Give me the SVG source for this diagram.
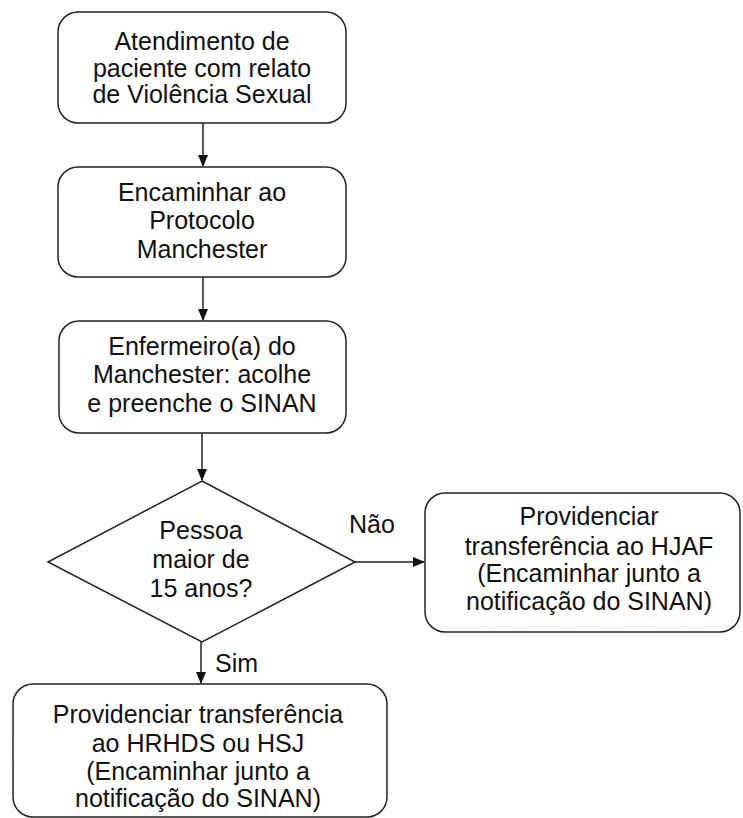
<svg xmlns="http://www.w3.org/2000/svg" width="743" height="818" viewBox="0 0 743 818">
<style>
.box{fill:#fff;stroke:#222;stroke-width:1.5}
.t{font-family:"Liberation Sans",Arial,sans-serif;font-size:25px;fill:#111;text-anchor:middle}
.l{font-family:"Liberation Sans",Arial,sans-serif;font-size:25px;fill:#111}
.c{stroke:#222;stroke-width:1.5;fill:none}
</style>
<defs>
<marker id="ah" markerWidth="12" markerHeight="12" refX="11" refY="5" orient="auto" markerUnits="userSpaceOnUse" viewBox="0 0 12 10">
<path d="M0,0 L12,5 L0,10 Z" fill="#111"/>
</marker>
</defs>
<rect width="743" height="818" fill="#fff"/>
<g id="connectors">
<line class="c" x1="203" y1="123" x2="203" y2="166" marker-end="url(#ah)"/>
<line class="c" x1="203" y1="277" x2="203" y2="320" marker-end="url(#ah)"/>
<line class="c" x1="202" y1="433" x2="202" y2="480" marker-end="url(#ah)"/>
<line class="c" x1="355" y1="562" x2="424" y2="562" marker-end="url(#ah)"/>
<line class="c" x1="201" y1="642" x2="201" y2="683" marker-end="url(#ah)"/>
<text class="l" x="349" y="533">Não</text>
<text class="l" x="215" y="672">Sim</text>
</g>
<g id="n1">
<rect class="box" x="58" y="12" width="288" height="111" rx="20"/>
<text class="t" x="202" y="50">Atendimento de</text>
<text class="t" x="202" y="76.5">paciente com relato</text>
<text class="t" x="202" y="103">de Violência Sexual</text>
</g>
<g id="n2">
<rect class="box" x="58" y="167" width="288" height="110" rx="20"/>
<text class="t" x="202" y="200.5">Encaminhar ao</text>
<text class="t" x="202" y="229.3">Protocolo</text>
<text class="t" x="202" y="258">Manchester</text>
</g>
<g id="n3">
<rect class="box" x="59" y="321" width="287" height="112" rx="20"/>
<text class="t" x="202" y="355">Enfermeiro(a) do</text>
<text class="t" x="202" y="383.3">Manchester: acolhe</text>
<text class="t" x="202" y="411.7">e preenche o SINAN</text>
</g>
<g id="n4">
<polygon class="box" points="202,481 355,562 202,642 48,562"/>
<text class="t" x="201" y="539">Pessoa</text>
<text class="t" x="201" y="568.3">maior de</text>
<text class="t" x="201" y="596.7">15 anos?</text>
</g>
<g id="n5">
<rect class="box" x="425" y="493" width="315" height="139" rx="20"/>
<text class="t" x="589" y="525">Providenciar</text>
<text class="t" x="589" y="555">transferência  ao HJAF</text>
<text class="t" x="589" y="581.7">(Encaminhar junto a</text>
<text class="t" x="589" y="610">notificação do SINAN)</text>
</g>
<g id="n6">
<rect class="box" x="13" y="684" width="374" height="133" rx="20"/>
<text class="t" x="198" y="723.3">Providenciar transferência</text>
<text class="t" x="198" y="751.7">ao HRHDS ou HSJ</text>
<text class="t" x="198" y="780">(Encaminhar junto a</text>
<text class="t" x="198" y="806.7">notificação do SINAN)</text>
</g>
</svg>
